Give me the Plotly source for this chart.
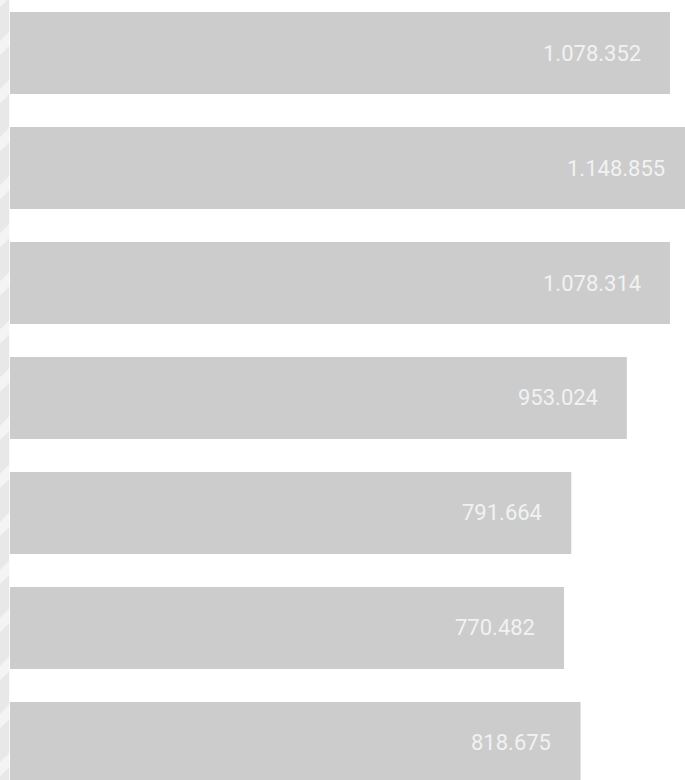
import numpy as np
import plotly.graph_objects as go

# Data
categories = [0, 1, 2, 3, 4, 5, 6]
values = [1078352, 1148855, 1078314, 953024, 791664, 770482, 818675]
labels = ["1.078.352", "1.148.855", "1.078.314", "953.024", "791.664", "770.482", "818.675"]

AXIS_MIN = -838500
AXIS_MAX = 1122000
LABEL_OFFSET = 79000  # gap between label end and bar end, in data units

W, H = 685, 780
BAR_COLOR = "#cccccc"

vals = np.array(values, dtype=float)

fig = go.Figure()

# main bars
fig.add_trace(go.Bar(
    y=categories,
    x=vals - AXIS_MIN,
    base=AXIS_MIN,
    orientation="h",
    width=0.713,
    marker=dict(color=BAR_COLOR, line=dict(width=0)),
    hoverinfo="skip",
    xaxis="x", yaxis="y",
))

# decorative hatched strip on the left
fig.add_trace(go.Bar(
    y=[3],
    x=[1],
    width=[7.4],
    orientation="h",
    marker=dict(
        color="#e8e8e8",
        line=dict(width=0),
        pattern=dict(shape="/", fgcolor="#ffffff", size=34, solidity=0.3, fillmode="overlay"),
    ),
    hoverinfo="skip",
    xaxis="x2", yaxis="y",
))

annotations = []
for c, v, t in zip(categories, values, labels):
    annotations.append(dict(
        x=v - LABEL_OFFSET, y=c, xref="x", yref="y",
        text=t, showarrow=False,
        xanchor="right", yanchor="middle",
        font=dict(family="Roboto", size=22, color="#f2f2f2", weight=400),
    ))

fig.update_layout(
    width=W, height=H,
    margin=dict(l=0, r=0, t=0, b=0),
    paper_bgcolor="white",
    plot_bgcolor="white",
    showlegend=False,
    barmode="overlay",
    annotations=annotations,
    xaxis=dict(domain=[10 / W, 1], range=[AXIS_MIN, AXIS_MAX], visible=False, fixedrange=True),
    xaxis2=dict(domain=[0, 9.5 / W], range=[0, 1], visible=False, anchor="y", fixedrange=True),
    yaxis=dict(range=[6.322, -0.461], visible=False, fixedrange=True),
)

fig.write_html("out.html", post_script="document.body.style.margin='0';document.body.style.overflow='hidden';",
               config={"displayModeBar": False})
